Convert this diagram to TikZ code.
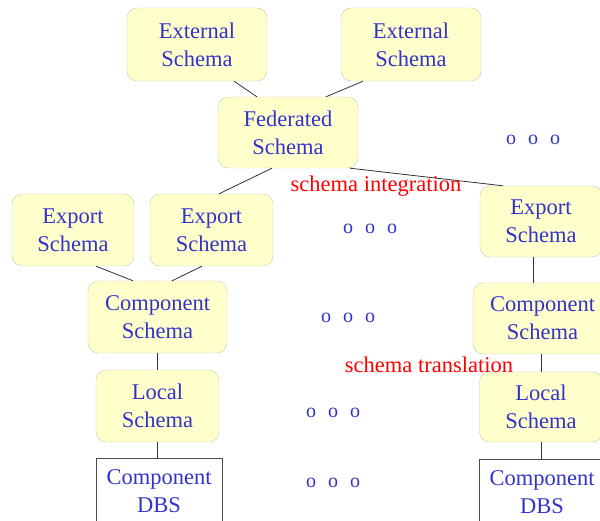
\documentclass[tikz,border=0pt]{standalone}
\usepackage{fontspec}
\setmainfont{Liberation Serif}
\definecolor{schemablue}{RGB}{51,51,204}
\definecolor{schemafill}{RGB}{255,255,204}
\definecolor{schemaline}{RGB}{200,200,180}
\tikzset{schemabox/.style={draw=schemaline,fill=schemafill,rounded corners=10pt,
        text=schemablue,align=center,inner sep=0pt,font=\fontsize{22.5}{28}\selectfont},
    dbsbox/.style={draw=black!70,fill=white,text=schemablue,align=center,inner sep=0pt,
        font=\fontsize{22.5}{28}\selectfont},
    edge/.style={draw=black!80,line width=0.8pt},
    steplabel/.style={text=red,font=\fontsize{22.5}{28}\selectfont},
    dotrow/.style={text=schemablue,font=\fontsize{20}{24}\selectfont}}
\newcommand{\ooo}{o\hspace{12pt}o\hspace{12pt}o}
\begin{document}
\begin{tikzpicture}[x=1pt,y=-1pt]
      \useasboundingbox (0,0) rectangle (600,521);
      \clip (0,0) rectangle (600,521);
      % schemas
      \node[schemabox,minimum width=140,minimum height=73] (ext1) at (197,44.5) {External\\Schema};
      \node[schemabox,minimum width=140,minimum height=73] (ext2) at (411,44.5) {External\\Schema};
      \node[schemabox,minimum width=140,minimum height=71] (fed) at (288,132.5) {Federated\\Schema};
      \node[schemabox,minimum width=122,minimum height=72] (exp1) at (73,230) {Export\\Schema};
      \node[schemabox,minimum width=123,minimum height=72] (exp2) at (211.5,230) {Export\\Schema};
      \node[schemabox,minimum width=122,minimum height=71] (exp3) at (541,221.5) {Export\\Schema};
      \node[schemabox,minimum width=139,minimum height=72] (comp1) at (157.5,317) {Component\\Schema};
      \node[schemabox,minimum width=139,minimum height=71] (comp2) at (542.5,318.5) {Component\\Schema};
      \node[schemabox,minimum width=123,minimum height=72] (loc1) at (157.5,406) {Local\\Schema};
      \node[schemabox,minimum width=123,minimum height=70] (loc2) at (541,407) {Local\\Schema};
      \node[dbsbox,minimum width=126,minimum height=80,text depth=14pt] (dbs1) at (159,498) {Component\\DBS};
      \node[dbsbox,minimum width=126,minimum height=80,text depth=14pt] (dbs2) at (542,499) {Component\\DBS};
      % connectors
      \draw[edge] ([xshift=37]ext1.south) -- ([xshift=-31]fed.north);
      \draw[edge] ([xshift=-48]ext2.south) -- ([xshift=38]fed.north);
      \draw[edge] ([xshift=-16]fed.south) -- ([xshift=7.5]exp2.north);
      \draw[edge] ([xshift=62]fed.south) -- ([xshift=-38]exp3.north);
      \draw[edge] ([xshift=23]exp1.south) -- ([xshift=-24.5]comp1.north);
      \draw[edge] ([xshift=-9.5]exp2.south) -- ([xshift=14.5]comp1.north);
      \draw[edge] ([xshift=-8]exp3.south) -- ([xshift=-9.5]comp2.north);
      \draw[edge] (comp1) -- (loc1) (loc1.south) -- (loc1.south |- dbs1.north);
      \draw[edge] (comp2.south -| loc2.north) -- (loc2) (loc2.south) -- (loc2.south |- dbs2.north);
      % labels
      \node[steplabel] (integ) at (376,186) {schema integration};
      \node[steplabel] (transl) at (429,365) {schema translation};
      \foreach \X/\Y [count=\i] in {533/140,370/229,348/318,333/413,333/483}
        \node[dotrow] (dots\i) at (\X,\Y) {\ooo};
\end{tikzpicture}
\end{document}
